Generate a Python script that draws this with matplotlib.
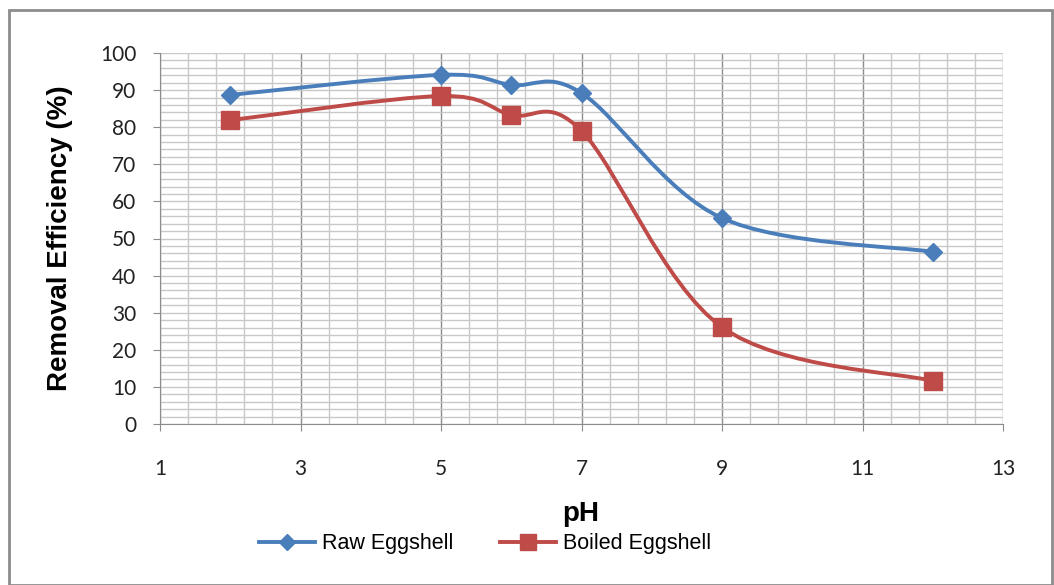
import numpy as np
import matplotlib.pyplot as plt
from matplotlib.path import Path
from matplotlib.patches import PathPatch, Rectangle
from matplotlib.lines import Line2D

# data
ph = [2, 5, 6, 7, 9, 12]
raw_eggshell = [88.7, 94.1, 91.4, 89.2, 55.5, 46.4]
boiled_eggshell = [81.9, 88.4, 83.3, 79.0, 26.1, 11.6]

blue = "#4a7ebb"
red = "#be4b48"


def smooth_path(x, y, t=1 / 6):
    # Bezier path through the points, like Excel's smoothed line
    x = np.asarray(x, float)
    y = np.asarray(y, float)
    n = len(x)
    verts = [(x[0], y[0])]
    codes = [Path.MOVETO]
    for i in range(n - 1):
        p0 = np.array([x[max(i - 1, 0)], y[max(i - 1, 0)]])
        p1 = np.array([x[i], y[i]])
        p2 = np.array([x[i + 1], y[i + 1]])
        p3 = np.array([x[min(i + 2, n - 1)], y[min(i + 2, n - 1)]])
        c1 = p1 + (p2 - p0) * t
        c2 = p2 - (p3 - p1) * t
        verts += [tuple(c1), tuple(c2), tuple(p2)]
        codes += [Path.CURVE4] * 3
    return Path(verts, codes)


fig = plt.figure(figsize=(10.54, 5.85), dpi=100)
ax = fig.add_axes([160 / 1054, 1 - 424 / 585, (1003 - 160) / 1054, (424 - 53) / 585])

ax.set_xlim(1, 13)
ax.set_ylim(0, 100)
ax.set_xticks(np.arange(1, 14, 2))
ax.set_xticks(np.arange(1, 13.01, 0.4), minor=True)
ax.set_yticks(np.arange(0, 101, 10))
ax.set_yticks(np.arange(0, 100.1, 2), minor=True)

ax.grid(which="minor", color="#c8c8c8", lw=1.0)
ax.grid(which="major", axis="x", color="#8c8c8c", lw=1.0)
ax.grid(which="major", axis="y", color="#c8c8c8", lw=1.0)
ax.set_axisbelow(True)

for s in ["top", "right"]:
    ax.spines[s].set_visible(False)
for s in ["left", "bottom"]:
    ax.spines[s].set_color("#8c8c8c")
ax.tick_params(which="major", length=5, color="#8c8c8c", labelsize=15, labelcolor="#222222")
ax.tick_params(axis="x", pad=20)
ax.tick_params(axis="y", pad=12)
ax.tick_params(which="minor", length=0)
for lab in ax.get_xticklabels() + ax.get_yticklabels():
    lab.set_family("Lato")

for yv, col, mk, ms in [(raw_eggshell, blue, "D", 9), (boiled_eggshell, red, "s", 13)]:
    ax.add_patch(PathPatch(smooth_path(ph, yv), fill=False, ec=col, lw=2.8, capstyle="round"))
    ax.plot(ph, yv, ls="none", marker=mk, ms=ms, color=col, zorder=3)

ax.set_ylabel("Removal Efficiency (%)", fontsize=20, fontweight="bold",
              family="Liberation Sans")
ax.yaxis.set_label_coords((73 - 160) / 843, 0.5)
fig.text(581 / 1054, 1 - 514 / 585, "pH", fontsize=20, fontweight="bold",
         family="Liberation Sans", ha="center", va="center")

handles = [Line2D([], [], color=blue, lw=2.8, marker="D", ms=8),
           Line2D([], [], color=red, lw=2.8, marker="s", ms=12)]
fig.legend(handles, ["Raw Eggshell", "Boiled Eggshell"], loc="center",
           bbox_to_anchor=(485 / 1054, 1 - 544 / 585), ncol=2, frameon=False,
           prop={"family": "Liberation Sans", "size": 15.5}, handlelength=2.6,
           handletextpad=0.3, columnspacing=2.2)

fig.add_artist(Rectangle((9 / 1054, 0), 1 - 9 / 1054 - 2 / 1054, 1 - 10 / 585,
                         transform=fig.transFigure, fill=False, ec="#8c8c8c", lw=2))

fig.savefig("out.png", dpi=100)
